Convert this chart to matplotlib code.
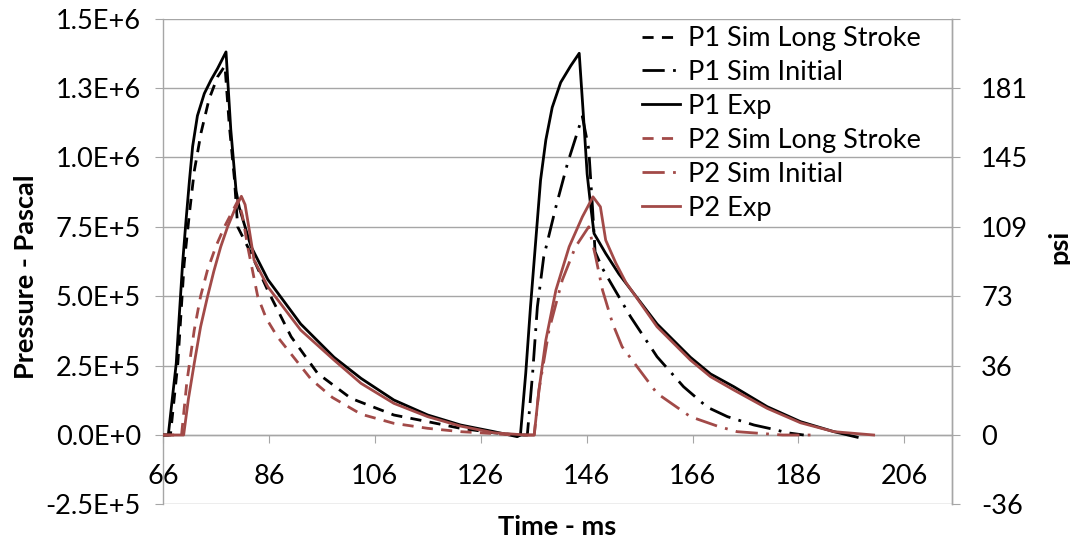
import matplotlib
matplotlib.use("Agg")
import matplotlib.pyplot as plt

plt.rcParams['font.family'] = ['Lato', 'DejaVu Sans']

# ---------------- data (time in ms, pressure in Pa) ----------------
p1_exp_t = [66, 67.0, 67.8, 68.5, 69.1, 69.7, 70.3, 71.0, 71.6, 72.5, 73.8, 75.1, 76.3, 77.9,
            78.8, 79.8, 80.4, 82.6, 85.8, 92.0, 98.3, 103.4, 109.6, 116.0, 122.2, 128.5, 132.9,
            133.5, 134.5, 135.4, 136.4, 137.3, 138.3, 139.5, 141.1, 143.0, 144.6, 145.5, 146.1,
            146.8, 147.4, 149.6, 152.1, 159.3, 165.6, 169.4, 173.8, 180.1, 186.4, 192.7, 197.1]
p1_exp_p = [0, 0, 1.38e5, 2.58e5, 4.38e5, 6.18e5, 7.62e5, 9.18e5, 1.04e6, 1.15e6, 1.23e6, 1.28e6, 1.32e6, 1.38e6,
            1.10e6, 8.8e5, 8.2e5, 6.8e5, 5.6e5, 4.0e5, 2.8e5, 2.04e5, 1.26e5, 7.2e4, 3.6e4, 1.2e4, -6e3,
            0, 2.22e5, 4.62e5, 7.02e5, 9.18e5, 1.063e6, 1.18e6, 1.27e6, 1.33e6, 1.375e6, 1.12e6, 9.4e5,
            8.2e5, 7.26e5, 6.54e5, 5.8e5, 4.0e5, 2.8e5, 2.2e5, 1.74e5, 1.02e5, 4.8e4, 1.2e4, -8e3]

p1_long_t = [66, 67.4, 68.8, 70.0, 71.0, 71.9, 73.2, 74.7, 76.3, 77.7, 78.5, 79.5, 80.1, 82.6, 85.8,
             90.2, 95.2, 101.5, 109.6, 116.0, 122.2, 128.5, 132.9]
p1_long_p = [0, 0, 2.58e5, 6.18e5, 8.0e5, 9.5e5, 1.09e6, 1.21e6, 1.29e6, 1.33e6, 1.12e6, 9.2e5, 7.5e5, 6.55e5, 5.2e5,
             3.54e5, 2.22e5, 1.32e5, 7.2e4, 4.8e4, 2.4e4, 8e3, 0]

p1_init_t = [133.0, 134.8, 135.8, 136.7, 137.9, 140.2, 142.4, 145.2, 146.4, 147.1, 147.6, 149.0, 150.5,
             154.3, 159.3, 164.3, 168.8, 172.6, 177.6, 181.4, 183.9, 187.0]
p1_init_p = [0, 0, 2.22e5, 4.62e5, 6.42e5, 8.22e5, 9.79e5, 1.147e6, 1.03e6, 8.22e5, 6.6e5, 6.0e5, 5.5e5,
             4.26e5, 2.82e5, 1.74e5, 1.0e5, 6.6e4, 3.6e4, 2.0e4, 8e3, 0]

p2_exp_t = [66, 69.9, 70.8, 71.9, 73.1, 74.4, 75.6, 76.9, 78.2, 79.5, 80.8, 81.5, 82.3, 83.2, 85.8, 92.0,
            98.3, 103.4, 109.6, 116.0, 122.2, 128.5, 134.5, 136.1, 137.0, 138.3, 140.2, 142.7, 145.2,
            147.2, 148.6, 149.6, 151.5, 153.4, 159.3, 165.6, 169.4, 173.8, 180.1, 186.4, 192.7, 200.2]
p2_exp_p = [0, 0, 1.3e5, 2.58e5, 3.9e5, 4.98e5, 5.9e5, 6.78e5, 7.5e5, 8.1e5, 8.6e5, 8.3e5, 7.38e5, 6.3e5, 5.34e5, 3.78e5,
            2.7e5, 1.86e5, 1.14e5, 6.6e4, 3.2e4, 8e3, 0, 0, 1.62e5, 3.42e5, 5.22e5, 6.78e5, 7.86e5,
            8.58e5, 8.22e5, 7.02e5, 6.2e5, 5.5e5, 3.9e5, 2.7e5, 2.1e5, 1.62e5, 9.6e4, 4.4e4, 1.2e4, 0]

p2_long_t = [66, 69.5, 70.5, 71.9, 73.1, 74.4, 76.0, 77.6, 80.2, 81.0, 82.0, 83.9, 85.5, 87.6, 94.0,
             98.0, 103.4, 109.6, 116.0, 122.2, 128.5, 132.0]
p2_long_p = [0, 0, 1.9e5, 3.78e5, 5.0e5, 5.94e5, 6.8e5, 7.5e5, 8.46e5, 7.9e5, 6.78e5, 4.98e5, 4.2e5, 3.54e5, 2.0e5,
             1.35e5, 7.5e4, 4.2e4, 2.4e4, 1.2e4, 5e3, 0]

p2_init_t = [134.0, 136.1, 137.0, 138.9, 141.4, 143.9, 146.4, 147.7, 149.0, 150.9, 152.7, 159.3, 165.6,
             170.7, 174.4, 180.1, 183.0, 189.0]
p2_init_p = [0, 0, 1.62e5, 3.78e5, 5.58e5, 6.78e5, 7.5e5, 6.42e5, 5.22e5, 4.02e5, 3.18e5, 1.5e5, 6.6e4,
             3.2e4, 1.2e4, 4e3, 0, 0]

x_ticks = [66, 86, 106, 126, 146, 166, 186, 206]
y_ticks = [-2.5e5, 0, 2.5e5, 5.0e5, 7.5e5, 1.0e6, 1.25e6, 1.5e6]
y_labels = ['-2.5E+5', '0.0E+0', '2.5E+5', '5.0E+5', '7.5E+5', '1.0E+6', '1.3E+6', '1.5E+6']
psi_labels = ['-36', '0', '36', '73', '109', '145', '181', '']

# ---------------- styling ----------------
BLACK = '#000000'
RED = '#A24A48'
GRAY = '#A6A6A6'
FS = 19.5
LW = 2.0
DASH = (0, (4, 3))
DASHDOT = (0, (8, 3, 1, 3))

fig = plt.figure(figsize=(10.7, 5.44), dpi=100)
ax = fig.add_axes([163 / 1070, 1 - 504.4 / 544, (952 - 163) / 1070, (504.4 - 18.6) / 544])

series = [
    (p1_long_t, p1_long_p, BLACK, DASH, 'P1 Sim Long Stroke'),
    (p1_init_t, p1_init_p, BLACK, DASHDOT, 'P1 Sim Initial'),
    (p1_exp_t, p1_exp_p, BLACK, '-', 'P1 Exp'),
    (p2_long_t, p2_long_p, RED, DASH, 'P2 Sim Long Stroke'),
    (p2_init_t, p2_init_p, RED, DASHDOT, 'P2 Sim Initial'),
    (p2_exp_t, p2_exp_p, RED, '-', 'P2 Exp'),
]
for t, p, c, ls, lab in series:
    ax.plot(t, p, color=c, linestyle=ls, linewidth=LW, label=lab, zorder=3)

ax.set_xlim(66, 215)
ax.set_ylim(-2.5e5, 1.5e6)
ax.set_xticks(x_ticks)
ax.set_xticklabels([str(v) for v in x_ticks])
ax.set_yticks(y_ticks)
ax.set_yticklabels(y_labels)

ax.yaxis.grid(True, color=GRAY, linewidth=1.0, zorder=0)
ax.set_axisbelow(True)

ax.spines['bottom'].set_position(('data', 0))
ax.spines['top'].set_visible(False)
for s in ['bottom', 'left', 'right']:
    ax.spines[s].set_color(GRAY)
    ax.spines[s].set_linewidth(1.0)

ax.tick_params(axis='x', direction='out', length=6, color=GRAY, labelsize=FS, pad=15)
ax.tick_params(axis='y', direction='out', length=6, color=GRAY, labelsize=FS, pad=10)

ax2 = ax.twinx()
ax2.set_ylim(-2.5e5, 1.5e6)
ax2.set_yticks(y_ticks)
ax2.set_yticklabels(psi_labels)
ax2.tick_params(axis='y', direction='out', length=6, color=GRAY, labelsize=FS, pad=15)
for s in ['top', 'bottom', 'left']:
    ax2.spines[s].set_visible(False)
ax2.spines['right'].set_color(GRAY)
ax2.spines['right'].set_linewidth(1.0)

leg = ax.legend(loc='upper left', bbox_to_anchor=(642 / 1070, 1 - 26 / 544),
                bbox_transform=fig.transFigure, frameon=False, fontsize=FS,
                handlelength=1.4, handletextpad=0.3, labelspacing=0.33, borderpad=0,
                borderaxespad=0)

fig.text(26 / 1070, 1 - 277 / 544, 'Pressure - Pascal', rotation=90, ha='center', va='center',
         fontsize=FS, fontweight='bold')
fig.text(1059 / 1070, 1 - 247 / 544, 'psi', rotation=90, ha='center', va='center',
         fontsize=FS, fontweight='bold')
fig.text(557 / 1070, 1 - 527 / 544, 'Time - ms', ha='center', va='center',
         fontsize=FS, fontweight='bold')

fig.savefig('out.png', dpi=100)
